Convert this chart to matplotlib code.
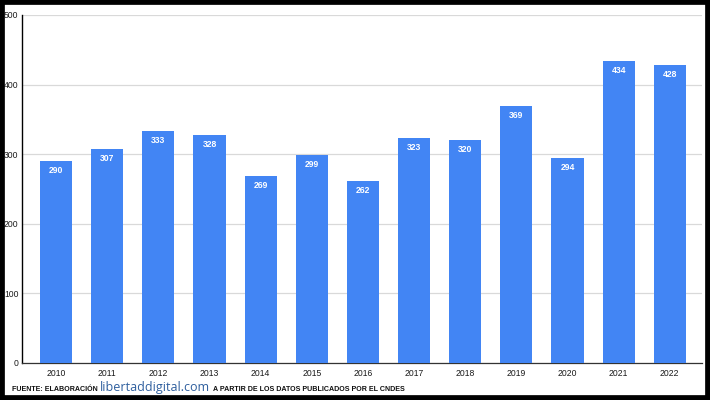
import numpy as np
import matplotlib
matplotlib.use('Agg')
from matplotlib import pyplot as plt
from matplotlib.patches import Rectangle

plt.rcParams['font.family'] = ['Liberation Sans', 'DejaVu Sans']

years = ['2010', '2011', '2012', '2013', '2014', '2015', '2016',
         '2017', '2018', '2019', '2020', '2021', '2022']
values = [290, 307, 333, 328, 269, 299, 262, 323, 320, 369, 294, 434, 428]
yticks = [0, 100, 200, 300, 400, 500]

fig = plt.figure(figsize=(7.1, 4), dpi=100)
ax = fig.add_axes([22/710, 37/400, 680/710, 348/400])

x = np.arange(len(years))
bars = ax.bar(x, values, width=0.63, color='#4285f4', zorder=3)

for xi, v in zip(x, values):
    ax.annotate(str(v), (xi, v), xytext=(0, -3.5), textcoords='offset points',
                ha='center', va='top', color='white', fontsize=6.2,
                fontweight='bold', zorder=4)

ax.set_xlim(-0.667, 12.63)
ax.set_ylim(0, 500)
ax.set_xticks(x)
ax.set_xticklabels(years, fontsize=6.2, color='#1a1a1a')
ax.set_yticks(yticks)
ax.set_yticklabels([str(t) for t in yticks], fontsize=6.2, color='#1a1a1a')
ax.tick_params(axis='both', length=0)
ax.tick_params(axis='y', pad=2.5)
ax.tick_params(axis='x', pad=4)
ax.grid(axis='y', color='#d9d9d9', lw=0.9, zorder=0)
ax.spines['top'].set_visible(False)
ax.spines['right'].set_visible(False)
ax.spines['left'].set_color('black')
ax.spines['bottom'].set_color('#333333')
ax.spines['left'].set_linewidth(1)
ax.spines['bottom'].set_linewidth(0.9)

fig.text(12/710, 1 - 389.5/400, 'FUENTE: ELABORACIÓN', fontsize=5.1,
         fontweight='bold', va='center', ha='left', color='#111111')
fig.text(100/710, 1 - 388/400, 'libertaddigital.com', fontsize=9,
         family='Open Sans', va='center', ha='left', color='#2f5f9e')
fig.text(213/710, 1 - 389.5/400, 'A PARTIR DE LOS DATOS PUBLICADOS POR EL CNDES',
         fontsize=5.1, fontweight='bold', va='center', ha='left', color='#111111')

fig.add_artist(Rectangle((0, 0), 1, 1, transform=fig.transFigure, fill=False,
                         edgecolor='black', lw=7))

fig.savefig('out.png', dpi=100)
